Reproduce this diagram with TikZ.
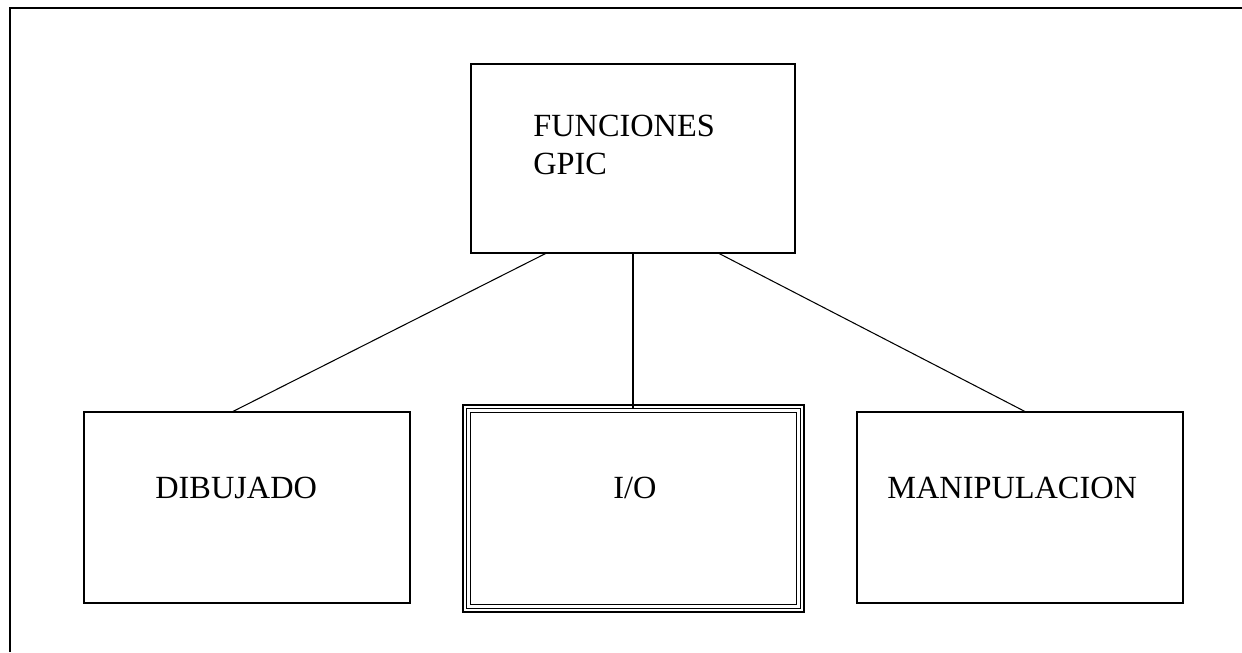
\documentclass[tikz,border=0pt]{standalone}
\usepackage{fontspec}
\setmainfont{Liberation Serif}
\usetikzlibrary{calc}
\tikzstyle{box} = [draw, line width=0.6pt, minimum width=6.52cm, minimum height=3.82cm]
\tikzstyle{txt} = [anchor=base west, inner sep=0pt, font=\fontsize{18.4}{21.5}\selectfont]

\begin{document}
\begin{tikzpicture}
  \useasboundingbox (0,0) rectangle (24.84,13.04);
  \draw [line width=0.8pt] (0.2,0) -- (0.2,12.88) -- (24.84,12.88);
  \node (gpic) at (12.66,9.87) [box, minimum width=6.48cm, minimum height=3.78cm] {};
  \node (dib) at (4.94,2.89) [box] {};
  \node (io) at (12.67,2.87) [box, minimum width=6.82cm, minimum height=4.14cm] {};
  \node (man) at (20.40,2.89) [box] {};
  \foreach \d in {0.08,0.16}
    \draw [line width=0.6pt] ([shift={(\d,\d)}]io.south west) rectangle ([shift={(-\d,-\d)}]io.north east);
  \node (gpictxt) at (10.66,10.74) [txt, anchor=north west, align=left] {FUNCIONES\\GPIC};
  \node (dibtxt) at (3.10,3.06) [txt] {DIBUJADO};
  \node (iotxt) at (12.26,3.06) [txt] {I/O};
  \node (mantxt) at (17.74,3.06) [txt] {MANIPULACION};
  \draw [line width=0.6pt] ($(gpic.south west)!0.231!(gpic.south east)$) -- ($(dib.north west)!0.457!(dib.north east)$);
  \draw [line width=0.6pt] (gpic.south) -- ([yshift=-0.08cm]gpic.south |- io.north);
  \draw [line width=0.6pt] ($(gpic.south west)!0.765!(gpic.south east)$) -- ($(man.north west)!0.515!(man.north east)$);
\end{tikzpicture}
\end{document}
